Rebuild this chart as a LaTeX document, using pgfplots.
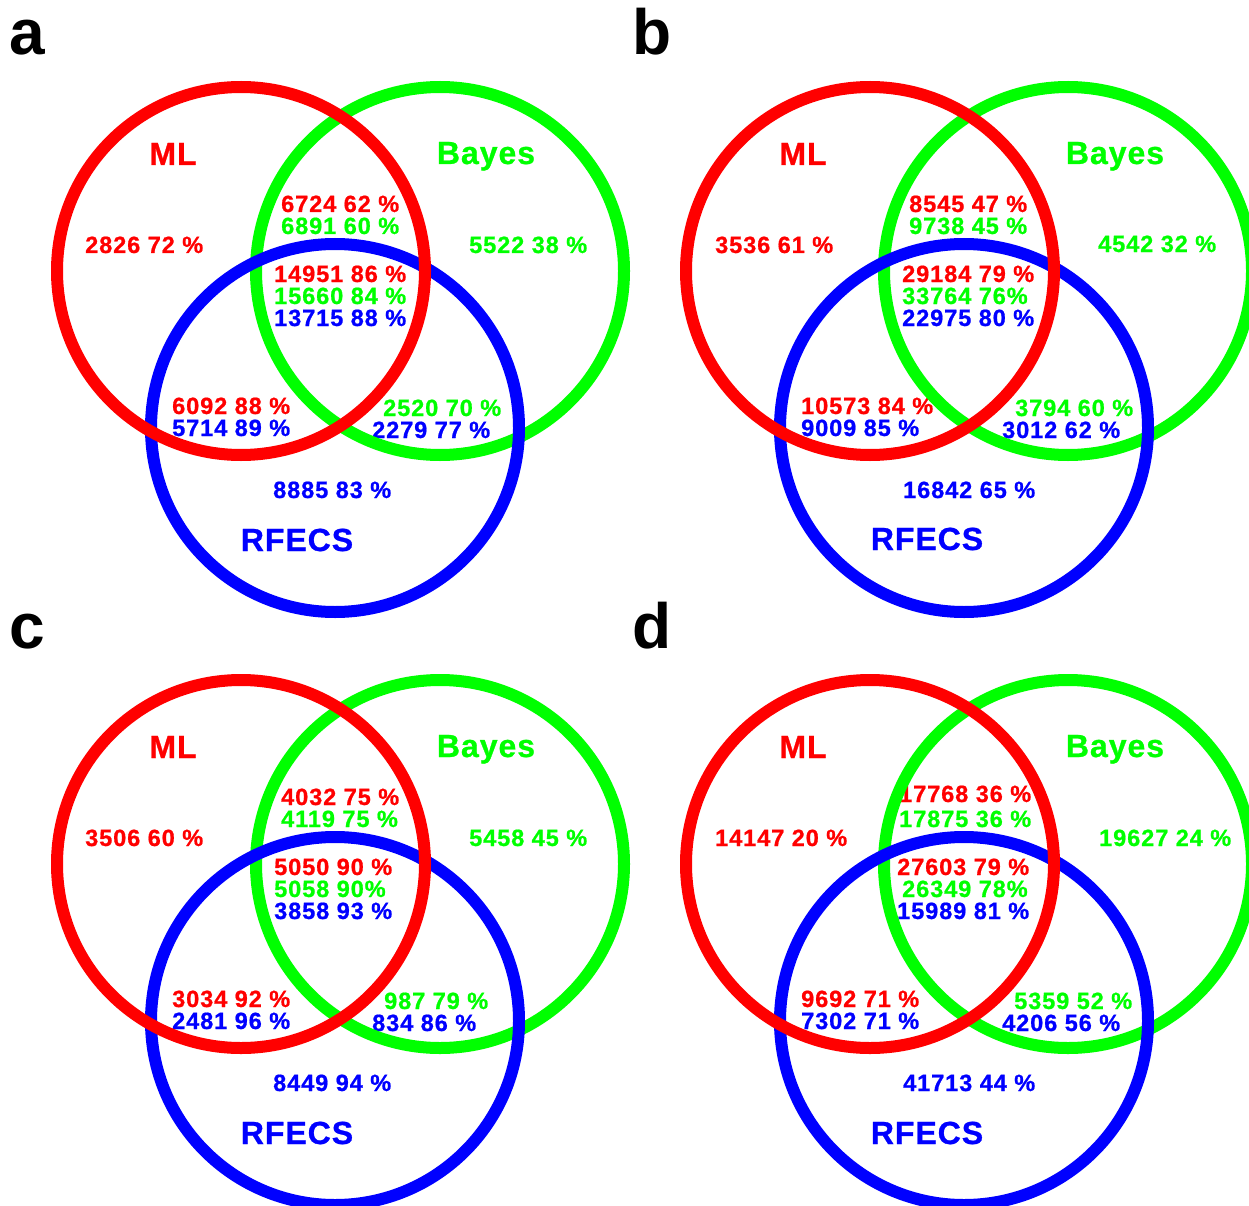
\documentclass[border=0pt]{standalone}
\usepackage{pgfplots}
\pgfplotsset{compat=1.18}
\usepackage{fontspec}
\setmainfont{Liberation Sans}
\newfontfamily\numfont{Liberation Sans}[LetterSpace=4, BoldFeatures={FakeBold=0.8}]
\newfontfamily\labfont{Liberation Sans}[LetterSpace=3, BoldFeatures={FakeBold=0.8}]
\newcommand{\num}[4]{\node[anchor=base west, inner sep=0pt, text=#3, font=\numfont\bfseries\fontsize{23.5}{23.5}\selectfont] at (axis cs:#1,#2) {#4};}
\newcommand{\lab}[4]{\node[anchor=base, inner sep=0pt, text=#3, font=\labfont\bfseries\fontsize{32}{32}\selectfont] at (axis cs:#1,#2) {#4};}
\newcommand{\pan}[3]{\node[anchor=base west, inner sep=0pt, font=\bfseries\fontsize{64}{64}\selectfont] at (axis cs:#1,#2) {#3};}
\begin{document}
\begin{tikzpicture}
\begin{axis}[
  width=1249pt, height=1206pt, scale only axis,
  xmin=0, xmax=1249, ymin=0, ymax=1206, y dir=reverse,
  hide axis, clip=false,
]
% circle centres (one per panel a, b, c, d)
\addplot[only marks, mark=o, mark size=184pt, mark options={draw=green, line width=12pt}, line width=12pt]
  coordinates {(440,271) (1068,271) (440,864) (1068,864)};
\addplot[only marks, mark=o, mark size=184pt, mark options={draw=blue, line width=12pt}, line width=12pt]
  coordinates {(335,428) (964,428) (335,1021) (964,1021)};
\addplot[only marks, mark=o, mark size=184pt, mark options={draw=red, line width=12pt}, line width=12pt]
  coordinates {(241,271) (870,271) (241,864) (870,864)};

\pan{9}{55}{a}
\pan{632}{55}{b}
\pan{9}{648}{c}
\pan{632}{648}{d}

% ---- panel a
\lab{173}{165}{red}{ML}
\lab{486}{164}{green}{Bayes}
\lab{297}{551}{blue}{RFECS}
\num{85}{253}{red}{2826 72 \%}
\num{469}{253}{green}{5522 38 \%}
\num{281}{212}{red}{6724 62 \%}
\num{281}{234}{green}{6891 60 \%}
\num{274}{282}{red}{14951 86 \%}
\num{274}{304}{green}{15660 84 \%}
\num{274}{326}{blue}{13715 88 \%}
\num{172}{414}{red}{6092 88 \%}
\num{172}{436}{blue}{5714 89 \%}
\num{383}{416}{green}{2520 70 \%}
\num{372}{438}{blue}{2279 77 \%}
\num{273}{498}{blue}{8885 83 \%}

% ---- panel b
\lab{803}{165}{red}{ML}
\lab{1115}{164}{green}{Bayes}
\lab{927}{550}{blue}{RFECS}
\num{715}{253}{red}{3536 61 \%}
\num{1098}{252}{green}{4542 32 \%}
\num{909}{212}{red}{8545 47 \%}
\num{909}{234}{green}{9738 45 \%}
\num{902}{282}{red}{29184 79 \%}
\num{902}{304}{green}{33764 76\%}
\num{902}{326}{blue}{22975 80 \%}
\num{801}{414}{red}{10573 84 \%}
\num{801}{436}{blue}{9009 85 \%}
\num{1015}{416}{green}{3794 60 \%}
\num{1002}{438}{blue}{3012 62 \%}
\num{903}{498}{blue}{16842 65 \%}

% ---- panel c
\lab{173}{758}{red}{ML}
\lab{486}{757}{green}{Bayes}
\lab{297}{1144}{blue}{RFECS}
\num{85}{846}{red}{3506 60 \%}
\num{469}{846}{green}{5458 45 \%}
\num{281}{805}{red}{4032 75 \%}
\num{281}{827}{green}{4119 75 \%}
\num{274}{875}{red}{5050 90 \%}
\num{274}{897}{green}{5058 90\%}
\num{274}{919}{blue}{3858 93 \%}
\num{172}{1007}{red}{3034 92 \%}
\num{172}{1029}{blue}{2481 96 \%}
\num{384}{1009}{green}{987 79 \%}
\num{372}{1031}{blue}{834 86 \%}
\num{273}{1091}{blue}{8449 94 \%}

% ---- panel d
\lab{803}{758}{red}{ML}
\lab{1115}{757}{green}{Bayes}
\lab{927}{1144}{blue}{RFECS}
\num{715}{846}{red}{14147 20 \%}
\num{1099}{846}{green}{19627 24 \%}
\num{899}{802}{red}{17768 36 \%}
\num{899}{827}{green}{17875 36 \%}
\num{897}{875}{red}{27603 79 \%}
\num{902}{897}{green}{26349 78\%}
\num{897}{919}{blue}{15989 81 \%}
\num{801}{1007}{red}{9692 71 \%}
\num{801}{1029}{blue}{7302 71 \%}
\num{1014}{1009}{green}{5359 52 \%}
\num{1002}{1031}{blue}{4206 56 \%}
\num{903}{1091}{blue}{41713 44 \%}
\end{axis}
\pgfresetboundingbox
\useasboundingbox (0,0) rectangle (1249pt,1206pt);
\end{tikzpicture}
\end{document}
